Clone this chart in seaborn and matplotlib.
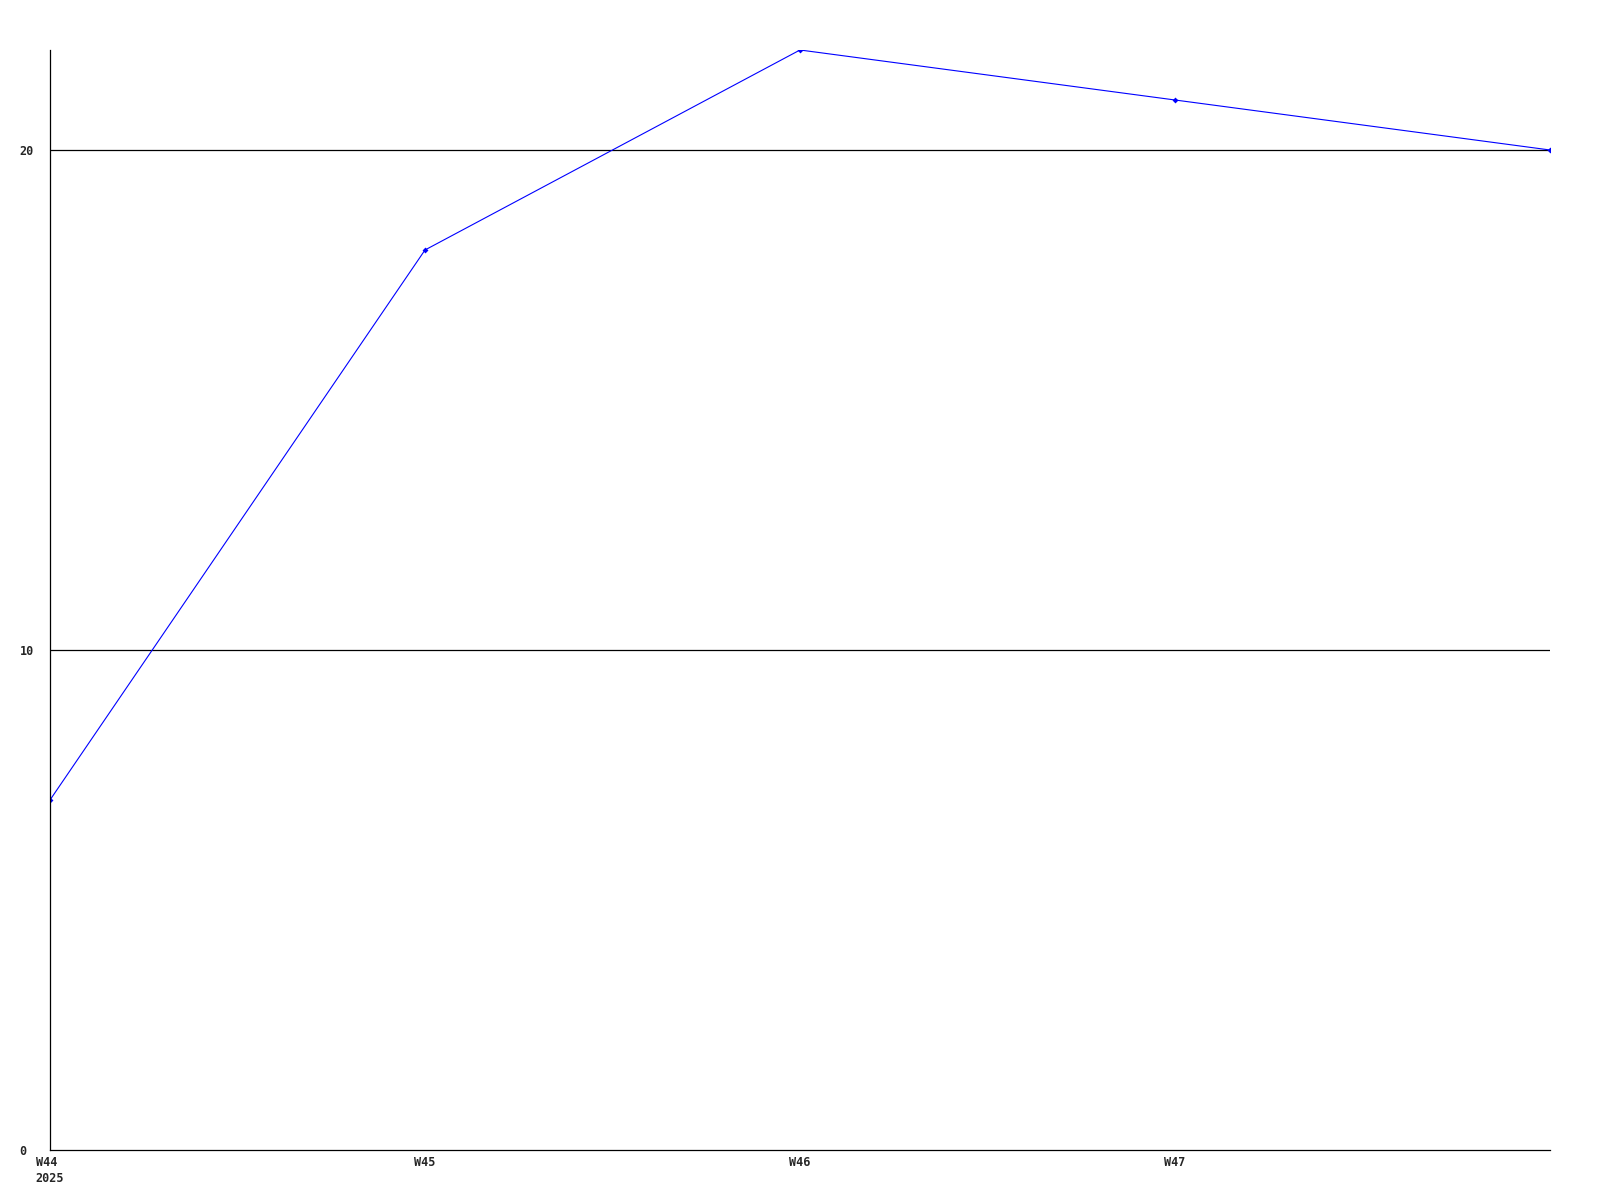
import pandas as pd
import matplotlib
matplotlib.use("Agg")
import matplotlib.pyplot as plt
import seaborn as sns

# weekly values
weeks = ["W44", "W45", "W46", "W47", "W48"]
tick_labels = ["W44\n2025", "W45", "W46", "W47"]
values = [7, 18, 22, 21, 20]

data = pd.DataFrame({"week": range(len(weeks)), "value": values})

sns.set_style("white")
plt.rcParams["font.family"] = ["DejaVu Sans Mono"]

fig = plt.figure(figsize=(16, 12), dpi=100)
ax = fig.add_axes([0.03125, 0.04167, 0.9375, 0.91667])

sns.lineplot(data=data, x="week", y="value", ax=ax, color="#0000ff",
             linewidth=0.8, marker="D", markersize=3, markeredgewidth=0)

ax.set_xlim(0, len(weeks) - 1)
ax.set_ylim(0, 22)

# horizontal reference lines only
for y in [10, 20]:
    ax.axhline(y, color="black", linewidth=0.9, zorder=0)

ax.set_xticks(range(len(tick_labels)))
ax.set_xticklabels(tick_labels, fontsize=8.5, fontweight="bold", linespacing=1.35)
ax.set_yticks([0, 10, 20])
ax.set_yticklabels(["0", "10", "20"], fontsize=8.5, fontweight="bold", ha="left")
ax.tick_params(axis="y", length=0, pad=22)
ax.tick_params(axis="x", length=0, pad=4)
for lbl in ax.get_xticklabels():
    lbl.set_verticalalignment("top")
    lbl.set_multialignment("left")

ax.set_xlabel("")
ax.set_ylabel("")
for side in ["top", "right"]:
    ax.spines[side].set_visible(False)
for side in ["left", "bottom"]:
    ax.spines[side].set_color("black")
    ax.spines[side].set_linewidth(0.9)

fig.savefig("out.png", dpi=100, facecolor="white")
